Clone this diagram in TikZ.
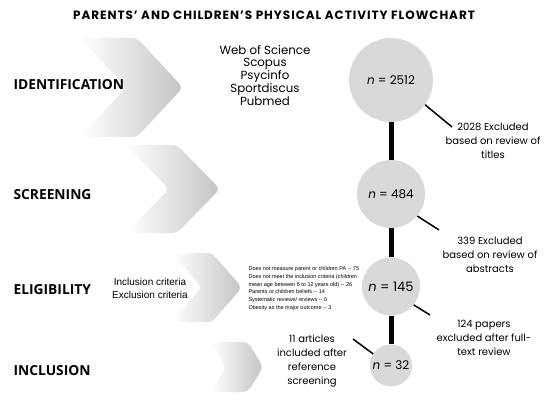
\documentclass[tikz,border=0pt]{standalone}
\usepackage{fontspec}
\setmainfont{Poppins}
\newfontfamily\opensans{Open Sans}
\newfontfamily\arialfont{Liberation Sans}
\definecolor{circlegray}{RGB}{217,217,217}
\definecolor{chevrongray}{RGB}{196,196,196}

\begin{document}
\begin{tikzpicture}[x=1pt, y=-1pt,
    phase/.style={anchor=west, font=\opensans\bfseries\fontsize{13.8}{15}\selectfont},
    count/.style={circle, fill=circlegray, inner sep=0pt, font=\fontsize{12}{14}\selectfont},
    note/.style={align=center, font=\fontsize{10}{14}\selectfont},
    link/.style={line width=1.5pt},
    stem/.style={line width=5pt}]
    \useasboundingbox (0,0) rectangle (550,404);
    \node[font=\bfseries\fontsize{12}{14}\selectfont\addfontfeature{LetterSpace=8}] (title) at (274,15) {PARENTS' AND CHILDREN'S PHYSICAL ACTIVITY FLOWCHART};
    \foreach \xa/\ya/\w/\d/\h in {80/38/57/46/49.5, 126/145/51/43/44, 172/253/40/30/34.5, 211/342/37/15/25}
        \shade[left color=white, right color=chevrongray, rounded corners=5pt] (\xa,\ya) -- ++(\w,0) -- ++(\d,\h) -- ++(-\d,\h) -- ++(-\w,0) -- ++(\d,-\h) -- cycle;
    \node[phase] (identification) at (10,85) {IDENTIFICATION};
    \node[phase] (screening) at (10,195) {SCREENING};
    \node[phase] (eligibility) at (10,290) {ELIGIBILITY};
    \node[phase] (inclusion) at (10,371) {INCLUSION};
    \node[align=center, font=\fontsize{11.8}{11.4}\selectfont] (databases) at (265,75.5) {Web of Science\\Scopus\\Psycinfo\\Sportdiscus\\Pubmed};
    \node[align=center, font=\arialfont\fontsize{10}{13}\selectfont] (criteria) at (150,288.5) {Inclusion criteria\\Exclusion criteria};
    \node[anchor=west, align=left, font=\arialfont\fontsize{5.5}{7.8}\selectfont] (reasons) at (245,288.5) {Does not measure parent or children PA -- 75\\Does not meet the inclusion criteria (children\\mean age between 6 to 12 years old) -- 26\\Parents or children beliefs -- 14\\Systematic reviews/ reviews -- 6\\Obesity as the major outcome -- 3};
    \node[count, minimum size=84] (n1) at (391,80) {\textit{n} = 2512};
    \node[count, minimum size=68] (n2) at (391,194) {\textit{n} = 484};
    \node[count, minimum size=58, font=\fontsize{13}{15}\selectfont] (n3) at (391,286.5) {\textit{n} = 145};
    \node[count, minimum size=42] (n4) at (391,365.5) {\textit{n} = 32};
    \draw[stem] (n1.south) -- (n2.north);
    \draw[stem] (n2.south) -- (n3.north);
    \draw[stem] (n3.south) -- (n4.north);
    \node[note] (titles) at (493,141) {2028 Excluded\\based on review of\\titles};
    \node[note] (abstracts) at (490,254.5) {339 Excluded\\based on review of\\abstracts};
    \node[note] (fulltext) at (484,337.5) {124 papers\\excluded after full-\\text review};
    \node[note] (reference) at (312,361) {11 articles\\included after\\reference\\screening};
    \coordinate (t1) at (452,127);
    \coordinate (t2) at (439,230);
    \coordinate (t3) at (430,315);
    \coordinate (t4) at (353,339);
    \draw[link] (n1.-36) -- (t1);
    \draw[link] (n2.-40) -- (t2);
    \draw[link] (n3.-39) -- (t3);
    \draw[link] (n4.147) -- (t4);
\end{tikzpicture}
\end{document}
